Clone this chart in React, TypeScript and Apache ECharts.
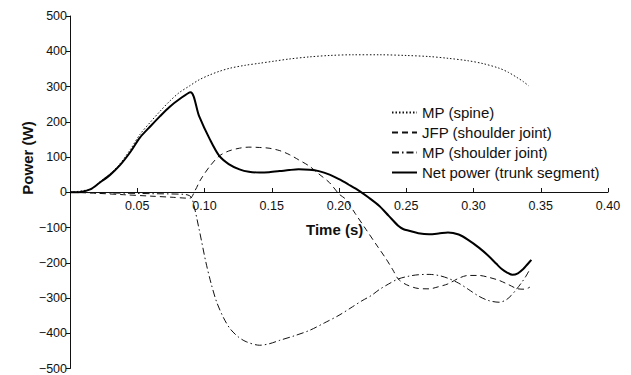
import React, { useEffect, useRef } from "react";
import * as echarts from "echarts";

const seriesNames = [
  "MP (spine)",
  "JFP (shoulder joint)",
  "MP (shoulder joint)",
  "Net power (trunk segment)",
];

const spineTime = [0, 0.015, 0.022, 0.03, 0.037, 0.045, 0.052, 0.06, 0.067, 0.074, 0.081, 0.089, 0.096, 0.104, 0.111, 0.119, 0.13, 0.141, 0.152, 0.163, 0.178, 0.193, 0.21, 0.23, 0.25, 0.267, 0.281, 0.296, 0.307, 0.319, 0.326, 0.333, 0.337, 0.341];
const spinePower = [0, 9, 29, 53, 80, 122, 164, 200, 230, 258, 282, 302, 319, 333, 343, 352, 360, 366, 372, 378, 384, 388, 390, 390, 388, 385, 380, 373, 365, 352, 340, 324, 314, 302];

const jfpTime = [0, 0.02, 0.04, 0.06, 0.075, 0.089, 0.093, 0.097, 0.104, 0.111, 0.118, 0.126, 0.133, 0.141, 0.148, 0.156, 0.163, 0.17, 0.178, 0.185, 0.193, 0.2, 0.205, 0.212, 0.22, 0.228, 0.235, 0.24, 0.244, 0.25, 0.259, 0.267, 0.274, 0.281, 0.289, 0.296, 0.304, 0.311, 0.319, 0.326, 0.333, 0.338, 0.342];
const jfpPower = [0, -3, -7, -11, -14, -17, 5, 35, 74, 103, 117, 125, 128, 127, 125, 118, 107, 92, 74, 52, 27, -5, -20, -60, -105, -150, -189, -220, -246, -262, -273, -274, -268, -260, -244, -236, -236, -241, -250, -262, -274, -275, -269];

const mpShoulderTime = [0, 0.03, 0.06, 0.085, 0.089, 0.091, 0.096, 0.101, 0.105, 0.109, 0.114, 0.119, 0.125, 0.131, 0.141, 0.148, 0.156, 0.167, 0.178, 0.189, 0.2, 0.21, 0.217, 0.224, 0.23, 0.237, 0.244, 0.252, 0.259, 0.267, 0.274, 0.281, 0.289, 0.296, 0.304, 0.311, 0.319, 0.324, 0.328, 0.332, 0.336, 0.339, 0.342];
const mpShoulderPower = [0, -2, -4, -6, -10, -20, -105, -198, -260, -311, -355, -387, -410, -424, -434, -430, -420, -407, -392, -371, -349, -325, -308, -293, -276, -260, -246, -238, -234, -233, -236, -244, -258, -275, -295, -307, -312, -306, -293, -275, -255, -238, -218];

const netTime = [0, 0.008, 0.015, 0.022, 0.03, 0.037, 0.045, 0.052, 0.06, 0.067, 0.074, 0.081, 0.0896, 0.096, 0.104, 0.111, 0.118, 0.126, 0.133, 0.141, 0.148, 0.156, 0.163, 0.17, 0.178, 0.185, 0.193, 0.2, 0.207, 0.215, 0.222, 0.23, 0.237, 0.244, 0.248, 0.252, 0.259, 0.267, 0.274, 0.281, 0.289, 0.296, 0.304, 0.311, 0.317, 0.321, 0.325, 0.329, 0.333, 0.337, 0.34, 0.343];
const netPower = [0, 1, 8, 27, 50, 76, 115, 155, 188, 216, 242, 263, 284, 216, 150, 103, 80, 65, 58, 56, 57, 60, 63, 65, 64, 60, 50, 37, 22, 4, -15, -39, -67, -95, -105, -109, -116, -119, -117, -114, -120, -135, -157, -180, -203, -218, -228, -234, -230, -218, -205, -192];

const xTicks = { min: 0, max: 0.4, interval: 0.05 };
const yTicks = { min: -500, max: 500, interval: 100 };

const pair = (t: number[], v: number[]) => t.map((x, i) => [x, v[i]]);

const FONT = "'Liberation Sans', Arial, Helvetica, sans-serif";
const GRID_TOP = 16;
const GRID_BOTTOM = 6;
const GRID_H = 375 - GRID_TOP - GRID_BOTTOM;

export default function App() {
  const ref = useRef<HTMLDivElement>(null);
  useEffect(() => {
    if (!ref.current) return;
    const chart = echarts.init(ref.current, null, { renderer: "svg" });
    const thin = { color: "#111", width: 1 };
    chart.setOption({
      animation: false,
      backgroundColor: "#fff",
      grid: { left: 70, right: 23, top: GRID_TOP, bottom: GRID_BOTTOM, containLabel: false },
      legend: {
        orient: "vertical",
        left: 386,
        top: 100,
        itemWidth: 25,
        itemHeight: 14,
        itemGap: 5,
        data: seriesNames,
        itemStyle: { opacity: 0 },
        textStyle: { fontFamily: FONT, fontSize: 15, color: "#111" },
      },
      xAxis: {
        type: "value",
        ...xTicks,
        position: "bottom",
        offset: -GRID_H / 2,
        axisLine: { onZero: false, lineStyle: { color: "#111", width: 1 } },
        axisTick: { inside: true, length: 4, lineStyle: { color: "#111" } },
        axisLabel: {
          showMinLabel: false,
          margin: 7,
          fontFamily: FONT,
          fontSize: 12.5,
          color: "#111",
          formatter: (v: number) => v.toFixed(2),
        },
        splitLine: { show: false },
      },
      yAxis: {
        type: "value",
        ...yTicks,
        axisLine: { show: true, lineStyle: { color: "#111", width: 1 } },
        axisTick: { show: true, inside: false, length: 4, lineStyle: { color: "#111" } },
        axisLabel: {
          margin: 3,
          fontFamily: FONT,
          fontSize: 12.5,
          color: "#111",
          formatter: (v: number) => (v < 0 ? "\u2212" + Math.abs(v) : String(v)),
        },
        splitLine: { show: false },
      },
      graphic: [
        {
          type: "text",
          x: 306,
          y: 229,
          style: {
            text: "Time (s)",
            font: `bold 15px ${FONT}`,
            fill: "#111",
            textAlign: "left",
            textVerticalAlign: "middle",
          },
        },
        {
          type: "text",
          x: 27,
          y: 158,
          rotation: Math.PI / 2,
          style: {
            text: "Power (W)",
            font: `bold 15px ${FONT}`,
            fill: "#111",
            textAlign: "center",
            textVerticalAlign: "middle",
          },
        },
      ],
      series: [
        {
          name: seriesNames[0],
          type: "line",
          data: pair(spineTime, spinePower),
          showSymbol: false,
          symbol: "none",
          smooth: 0.3,
          lineStyle: { ...thin, type: [1.5, 2] },
          itemStyle: { color: "#111" },
        },
        {
          name: seriesNames[1],
          type: "line",
          data: pair(jfpTime, jfpPower),
          showSymbol: false,
          symbol: "none",
          smooth: 0.3,
          lineStyle: { ...thin, type: [6, 4] },
          itemStyle: { color: "#111" },
        },
        {
          name: seriesNames[2],
          type: "line",
          data: pair(mpShoulderTime, mpShoulderPower),
          showSymbol: false,
          symbol: "none",
          smooth: 0.3,
          lineStyle: { ...thin, type: [7, 3, 1.5, 3] },
          itemStyle: { color: "#111" },
        },
        {
          name: seriesNames[3],
          type: "line",
          data: pair(netTime, netPower),
          showSymbol: false,
          symbol: "none",
          smooth: 0.3,
          lineStyle: { color: "#000", width: 2 },
          itemStyle: { color: "#000" },
        },
      ],
    });
    return () => chart.dispose();
  }, []);
  return (
    <div
      ref={ref}
      style={{ position: "fixed", left: 0, top: 0, width: 631, height: 375, background: "#fff" }}
    />
  );
}
